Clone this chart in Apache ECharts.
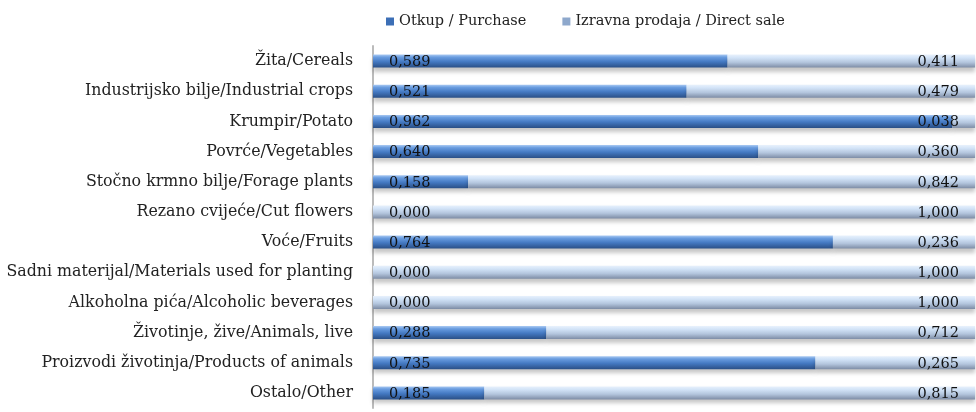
<!DOCTYPE html>
<html><head><meta charset="utf-8">
<script src="https://cdn.jsdelivr.net/npm/echarts@6/dist/echarts.min.js"></script>
<style>html,body{margin:0;padding:0;background:#fff}#c{width:976px;height:412px}</style>
</head><body><div id="c"></div>
<script>
const categories = ["Žita/Cereals","Industrijsko bilje/Industrial crops","Krumpir/Potato","Povrće/Vegetables","Stočno krmno bilje/Forage plants","Rezano cvijeće/Cut flowers","Voće/Fruits","Sadni materijal/Materials used for planting","Alkoholna pića/Alcoholic beverages","Životinje, žive/Animals, live","Proizvodi životinja/Products of animals","Ostalo/Other"];
const purchase = [0.589,0.521,0.962,0.640,0.158,0.000,0.764,0.000,0.000,0.288,0.735,0.185];
const directSale = [0.411,0.479,0.038,0.360,0.842,1.000,0.236,1.000,1.000,0.712,0.265,0.815];
const seriesNames = ["Otkup / Purchase","Izravna prodaja / Direct sale"];

const font = "DejaVu Serif";
const fmt = v => v.toFixed(3).replace('.', ',');
const chart = echarts.init(document.getElementById('c'));
const g1 = new echarts.graphic.LinearGradient(0,0,0,1,[
  {offset:0,color:'#a9c9f2'},{offset:0.2,color:'#6a9de0'},{offset:0.55,color:'#4479c2'},{offset:1,color:'#2a4f86'}]);
const g2 = new echarts.graphic.LinearGradient(0,0,0,1,[
  {offset:0,color:'#e8f1fc'},{offset:0.25,color:'#d2e3f7'},{offset:0.6,color:'#b3c5dd'},{offset:1,color:'#7d8ca5'}]);
chart.setOption({
  animation:false,
  legend:{top:9,left:381,itemWidth:8,itemHeight:8,itemGap:36,icon:'rect',
    textStyle:{fontFamily:font,fontSize:14.5,color:'#222'},
    data:[{name:seriesNames[0],itemStyle:{color:'#3c6fb6'}},{name:seriesNames[1],itemStyle:{color:'#8ea8cc'}}]},
  grid:{left:373,right:1,top:46,bottom:4},
  xAxis:{type:'value',min:0,max:1,show:false},
  yAxis:{type:'category',data:categories,inverse:true,
    axisLine:{show:true,lineStyle:{color:'#bbbbbb',width:2}},axisTick:{show:false},
    axisLabel:{fontFamily:font,fontSize:15.8,color:'#222',margin:20,padding:[2,0,0,0]}},
  series:[
    {name:seriesNames[0],type:'bar',stack:'s',data:purchase,barWidth:13,
      itemStyle:{color:g1,shadowColor:'rgba(0,0,0,0.22)',shadowBlur:4,shadowOffsetY:4},
      label:{show:true,position:'insideLeft',offset:[11,1],formatter:p=>fmt(p.value),
        fontFamily:font,fontSize:14.5,color:'#111'}},
    {name:seriesNames[1],type:'bar',stack:'s',data:directSale,barWidth:13,
      itemStyle:{color:g2,shadowColor:'rgba(0,0,0,0.22)',shadowBlur:4,shadowOffsetY:4},
      label:{show:true,position:'insideRight',offset:[-11,1],formatter:p=>fmt(p.value),
        fontFamily:font,fontSize:14.5,color:'#111'}}
  ]
});
</script></body></html>
